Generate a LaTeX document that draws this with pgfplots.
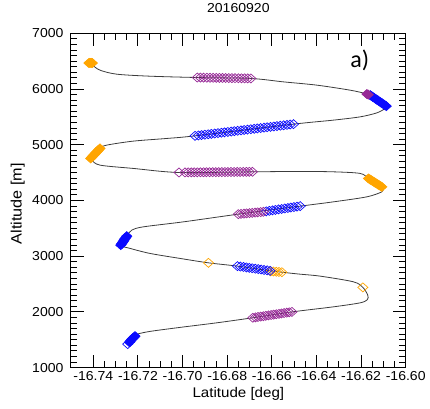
\documentclass[border=0pt]{standalone}
\usepackage{fontspec}
\setmainfont{Liberation Sans}[FakeStretch=1.08]
\newfontfamily\calfont{Carlito}
\usepackage{pgfplots}
\pgfplotsset{compat=1.18}
\definecolor{lineC}{RGB}{60,60,60}
\definecolor{orC}{RGB}{255,165,0}
\definecolor{blC}{RGB}{10,10,255}
\definecolor{puC}{RGB}{150,40,150}
\pgfplotsset{major tick length=13pt, minor tick length=6.5pt}
\begin{document}
\begin{tikzpicture}
\begin{axis}[
  scale only axis, width=334.7pt, height=334.2pt,
  xmin=-16.75, xmax=-16.60, ymin=1000, ymax=7000,
  xtick={-16.74,-16.72,-16.70,-16.68,-16.66,-16.64,-16.62,-16.60},
  xticklabels={-16.74,-16.72,-16.70,-16.68,-16.66,-16.64,-16.62,-16.60},
  ytick={1000,2000,3000,4000,5000,6000,7000},
  yticklabels={1000,2000,3000,4000,5000,6000,7000},
  minor x tick num=3, minor y tick num=9,
  tick align=inside,
  major tick length=13pt, minor tick length=6.5pt,
  every tick/.append style={black, line width=1pt},
  major tick style={black, line width=1pt},
  minor tick style={black, line width=1pt},
  axis line style={black, line width=1pt},
  xticklabel style={font=\fontsize{13}{15}\selectfont},
  yticklabel style={font=\fontsize{13}{15}\selectfont, xshift=-4pt},
  title={20160920},
  title style={at={(rel axis cs:0.5,1)}, anchor=base, yshift=15pt, font=\fontsize{13}{15}\selectfont},
  xlabel={Latitude [deg]},
  xlabel style={at={(rel axis cs:0.5,0)}, anchor=base, yshift=-29.8pt, font=\fontsize{14}{16}\selectfont},
  ylabel={Altitude [m]},
  every axis y label/.style={at={([xshift=-49.3pt]rel axis cs:0,0.49)}, anchor=base, rotate=90, font=\fontsize{15}{17}\selectfont},
]
% orange markers (open)
\addplot[only marks, mark=diamond, mark size=4.5pt, mark options={xscale=1.5, draw=orC, fill=none, line width=0.7pt}] coordinates {
(-16.6192,2440) (-16.6884,2881)
(-16.6605,2728) (-16.6593,2725) (-16.6580,2721) (-16.6568,2717) (-16.6555,2713)
};
% orange blobs (dense, appear filled)
\addplot[only marks, mark=diamond*, mark size=4.5pt, mark options={xscale=1.5, draw=orC, fill=orC, line width=0.7pt}] coordinates {
(-16.6107,4245) (-16.6113,4260) (-16.6119,4275) (-16.6125,4290) (-16.6131,4305) (-16.6137,4320) (-16.6143,4336) (-16.6149,4351) (-16.6155,4366) (-16.6161,4381) (-16.6167,4396)
(-16.7412,4755) (-16.7407,4775) (-16.7403,4795) (-16.7398,4815) (-16.7393,4835) (-16.7389,4855) (-16.7384,4875) (-16.7379,4895) (-16.7375,4915) (-16.7370,4935)
(-16.7420,6468) (-16.7416,6470) (-16.7412,6471) (-16.7408,6470) (-16.7404,6468)
};
% blue markers (open)
\addplot[only marks, mark=diamond, mark size=4.5pt, mark options={xscale=1.5, draw=blC, fill=none, line width=0.7pt}] coordinates {
(-16.7246,1422)
(-16.6754,2822) (-16.6741,2814) (-16.6727,2807) (-16.6714,2799) (-16.6701,2791) (-16.6688,2784) (-16.6674,2776) (-16.6661,2769) (-16.6648,2761) (-16.6635,2753) (-16.6621,2746) (-16.6608,2738)
(-16.6625,3806) (-16.6611,3814) (-16.6597,3823) (-16.6584,3831) (-16.6570,3840) (-16.6556,3848) (-16.6542,3857) (-16.6528,3865) (-16.6515,3874) (-16.6501,3882) (-16.6487,3891) (-16.6473,3899)
(-16.6944,5161) (-16.6929,5168) (-16.6915,5175) (-16.6900,5182) (-16.6885,5189) (-16.6871,5196) (-16.6856,5203) (-16.6841,5210) (-16.6826,5217) (-16.6812,5224) (-16.6797,5231) (-16.6782,5238) (-16.6768,5245) (-16.6753,5252) (-16.6738,5259) (-16.6724,5266) (-16.6709,5273) (-16.6694,5280) (-16.6679,5287) (-16.6665,5294) (-16.6650,5301) (-16.6635,5308) (-16.6621,5315) (-16.6606,5322) (-16.6591,5329) (-16.6577,5336) (-16.6562,5343) (-16.6547,5350) (-16.6532,5357) (-16.6518,5364) (-16.6503,5371)
};
% blue blobs (dense, appear filled)
\addplot[only marks, mark=diamond*, mark size=4.5pt, mark options={xscale=1.5, draw=blC, fill=blC, line width=0.7pt}] coordinates {
(-16.7238,1455) (-16.7233,1480) (-16.7228,1505) (-16.7223,1525) (-16.7218,1545) (-16.7213,1565)
(-16.7277,3199) (-16.7273,3222) (-16.7269,3245) (-16.7266,3268) (-16.7262,3291) (-16.7258,3314) (-16.7254,3337) (-16.7250,3360)
(-16.6087,5694) (-16.6093,5710) (-16.6099,5727) (-16.6105,5743) (-16.6111,5760) (-16.6117,5776) (-16.6123,5792) (-16.6129,5809) (-16.6135,5825) (-16.6141,5842) (-16.6147,5858) (-16.6153,5875) (-16.6159,5891)
};
% purple markers
\addplot[only marks, mark=diamond, mark size=4.5pt, mark options={xscale=1.5, draw=puC, fill=none, line width=0.7pt}] coordinates {
(-16.6685,1895) (-16.6673,1902) (-16.6662,1909) (-16.6650,1916) (-16.6638,1923) (-16.6627,1930) (-16.6615,1937) (-16.6603,1944) (-16.6592,1951) (-16.6580,1958) (-16.6568,1965) (-16.6557,1972) (-16.6545,1979) (-16.6533,1986) (-16.6522,1993) (-16.6510,2000)
(-16.6750,3755) (-16.6738,3760) (-16.6725,3764) (-16.6713,3769) (-16.6700,3774) (-16.6688,3778) (-16.6675,3783) (-16.6663,3788) (-16.6650,3792) (-16.6638,3797)
(-16.6687,4515) (-16.6701,4515) (-16.6714,4514) (-16.6728,4514) (-16.6742,4513) (-16.6755,4513) (-16.6769,4512) (-16.6783,4512) (-16.6797,4511) (-16.6810,4511) (-16.6824,4510) (-16.6838,4510) (-16.6851,4509) (-16.6865,4509) (-16.6879,4508) (-16.6893,4508) (-16.6906,4507) (-16.6920,4507) (-16.6934,4506) (-16.6948,4506) (-16.6961,4505) (-16.6975,4505) (-16.6989,4504) (-16.7016,4503)
(-16.6694,6191) (-16.6708,6192) (-16.6722,6193) (-16.6736,6194) (-16.6750,6195) (-16.6765,6196) (-16.6779,6197) (-16.6793,6198) (-16.6807,6199) (-16.6821,6200) (-16.6835,6201) (-16.6849,6202) (-16.6863,6203) (-16.6877,6204) (-16.6891,6205) (-16.6906,6206) (-16.6920,6207) (-16.6934,6208)
};
% purple blob
\addplot[only marks, mark=diamond*, mark size=4.5pt, mark options={xscale=1.5, draw=puC, fill=puC, line width=0.7pt}] coordinates {
(-16.6168,5900) (-16.6174,5912)
};
% flight track
\addplot[lineC, line width=0.8pt, smooth, tension=0.5, no markers] coordinates {
(-16.7246,1422) (-16.7213,1565) (-16.7203,1601) (-16.7146,1650) (-16.7011,1722) (-16.6847,1804) (-16.6685,1895) (-16.6510,2000) (-16.6324,2091) (-16.6204,2163) (-16.6172,2220) (-16.6170,2300) (-16.6192,2440) (-16.6234,2540) (-16.6383,2642) (-16.6480,2680) (-16.6555,2713) (-16.6608,2738) (-16.6754,2822) (-16.6884,2881) (-16.7011,2960) (-16.7146,3050) (-16.7235,3140) (-16.7277,3199) (-16.7250,3360) (-16.7228,3468) (-16.7176,3527) (-16.6996,3617) (-16.6750,3755) (-16.6473,3899) (-16.6324,3976) (-16.6174,4066) (-16.6107,4156) (-16.6102,4217) (-16.6107,4245) (-16.6167,4396) (-16.6204,4486) (-16.6324,4515) (-16.6473,4522) (-16.6687,4515) (-16.7016,4503) (-16.7221,4576) (-16.7370,4635) (-16.7407,4725) (-16.7412,4755) (-16.7370,4935) (-16.7340,4994) (-16.7221,5066) (-16.7071,5114) (-16.6944,5161) (-16.6503,5371) (-16.6324,5443) (-16.6204,5502) (-16.6129,5574) (-16.6092,5653) (-16.6087,5694) (-16.6159,5891) (-16.6180,5920) (-16.6249,5981) (-16.6398,6071) (-16.6548,6130) (-16.6694,6191) (-16.6934,6208) (-16.7146,6232) (-16.7295,6268) (-16.7370,6340) (-16.7403,6430) (-16.7412,6471)
};
\node[font=\calfont\fontsize{24}{28}\selectfont, anchor=center] at (rel axis cs:0.863,0.92) {a)};
\end{axis}
\path (-71pt,-40.5pt) rectangle (359pt,367.5pt);
\end{tikzpicture}
\end{document}
